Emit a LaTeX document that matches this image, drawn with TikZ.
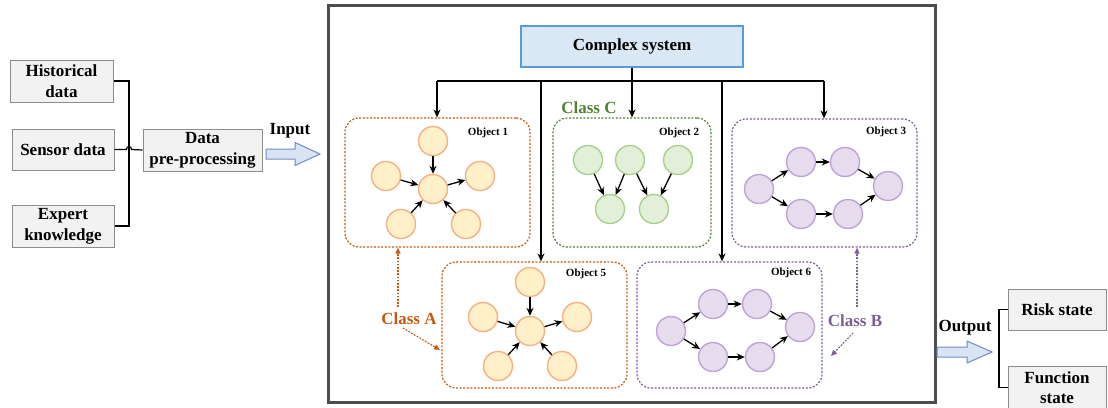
\documentclass[tikz,border=0pt]{standalone}
\usepackage{fontspec}
\setmainfont{Liberation Serif}
\usetikzlibrary{arrows.meta,calc}

\definecolor{boxfill}{HTML}{F2F2F2}
\definecolor{boxline}{HTML}{8C8C8C}
\definecolor{sysline}{HTML}{4D4D4D}
\definecolor{csfill}{HTML}{DAE8F5}
\definecolor{csline}{HTML}{5B9BD5}
\definecolor{arrfill}{HTML}{DAE3F3}
\definecolor{arrline}{HTML}{6C8EBF}
\definecolor{orgline}{HTML}{C55A11}
\definecolor{orgfill}{HTML}{FFF0C9}
\definecolor{orgring}{HTML}{F4B183}
\definecolor{grnline}{HTML}{548235}
\definecolor{grnfill}{HTML}{E2F0D9}
\definecolor{grnring}{HTML}{A9D18E}
\definecolor{purline}{HTML}{7B5E93}
\definecolor{purfill}{HTML}{E6DCEE}
\definecolor{purring}{HTML}{BFA3D6}

\tikzset{
  graybox/.style={draw=boxline, fill=boxfill, line width=1pt, align=center,
    font=\bfseries\fontsize{17}{21}\selectfont, inner sep=0pt},
  objbox/.style={rounded corners=14pt, line width=1.2pt,
    dash pattern=on 2pt off 1.6pt, inner sep=0pt},
  ball/.style={circle, minimum size=29pt, inner sep=0pt, line width=1.4pt},
  orgball/.style={ball, draw=orgring, fill=orgfill},
  grnball/.style={ball, draw=grnring, fill=grnfill},
  purball/.style={ball, draw=purring, fill=purfill},
  link/.style={-{Stealth[length=8pt,width=7pt]}, line width=1.3pt},
  wire/.style={line width=1.3pt},
  objlabel/.style={font=\bfseries\fontsize{11}{13}\selectfont},
  biglabel/.style={font=\bfseries\fontsize{17}{20}\selectfont},
  classlink/.style={dash pattern=on 1.6pt off 1.6pt, line width=1.1pt,
    -{Triangle[length=6pt,width=5pt]}},
  blockarrow/.style={draw=arrline, fill=arrfill, line width=1pt, line join=miter},
}

\begin{document}
\begin{tikzpicture}[x=1pt, y=-1pt]
\useasboundingbox (0,0) rectangle (1108,407);

% ---------- inputs ----------
\node[graybox, minimum width=103pt, minimum height=42pt] (hist) at (61.5,81) {Historical\\data};
\node[graybox, minimum width=102pt, minimum height=41pt] (sens) at (63,149.5) {Sensor data};
\node[graybox, minimum width=102pt, minimum height=42pt] (expk) at (63,226) {Expert\\knowledge};
\node[graybox, minimum width=119pt, minimum height=42pt] (prep) at (202.5,150) {Data\\pre-processing};

\coordinate (spine) at (129,0);
\coordinate (hopL) at (126.5,149.5);
\coordinate (hopR) at (131.5,149.5);
\draw[line width=1.2pt] (hist.east) -- (hist.east -| spine) -- (spine |- expk.east) -- (expk.east);
\draw[line width=1.2pt] (sens.east) -- (hopL) .. controls (126.5,145.5) and (131.5,145.5) .. (hopR) -- (prep.west);

% input arrow
\draw[blockarrow] (266,149) -- (295,149) -- (295,142.5) -- (320,154) -- (295,165.5) -- (295,159) -- (266,159) -- cycle;
\node[biglabel] (inlbl) at (290,131) {Input};

% ---------- system frame ----------
\draw[draw=sysline, line width=3pt] (328,5) rectangle (935,402);

\node[draw=csline, fill=csfill, line width=1.3pt, minimum width=222pt, minimum height=41pt,
  font=\bfseries\fontsize{17}{20}\selectfont] (cs) at (632,46.5) {Complex system};

% object containers
\node[objbox, draw=orgline, minimum width=185pt, minimum height=129pt] (obj1) at (437.5,182.5) {};
\node[objbox, draw=grnline, minimum width=158pt, minimum height=129pt] (obj2) at (632,182.5) {};
\node[objbox, draw=purline, minimum width=185pt, minimum height=128pt] (obj3) at (824.5,183) {};
\node[objbox, draw=orgline, minimum width=185pt, minimum height=126pt] (obj5) at (534.5,325) {};
\node[objbox, draw=purline, minimum width=185pt, minimum height=126pt] (obj6) at (729.5,325) {};

\node[objlabel] (lbl1) at (488,133) {Object 1};
\node[objlabel] (lbl2) at (679,133) {Object 2};
\node[objlabel] (lbl3) at (886,132) {Object 3};
\node[objlabel] (lbl5) at (586,274) {Object 5};
\node[objlabel] (lbl6) at (791,273) {Object 6};

% distribution bus
\coordinate (b1) at (437,81);
\coordinate (b5) at (541,81);
\coordinate (b6) at (722,81);
\coordinate (b3) at (824,81);
\draw[wire] (b1) -- (b3);
\draw[link] (b1) -- (b1 |- obj1.north);
\draw[link] (b5) -- (b5 |- obj5.north);
\draw[link] (cs.south) -- (obj2.north);
\draw[link] (b6) -- (b6 |- obj6.north);
\draw[link] (b3) -- (b3 |- obj3.north);

% ---------- object 1: star ----------
\node[orgball] (a1t) at (433,141) {};
\node[orgball] (a1c) at (433,189) {};
\node[orgball] (a1l) at (386,176) {};
\node[orgball] (a1r) at (480,176) {};
\node[orgball] (a1bl) at (401,224) {};
\node[orgball] (a1br) at (466,224) {};
\draw[link] (a1t) -- (a1c);
\draw[link] (a1l) -- (a1c);
\draw[link] (a1c) -- (a1r);
\draw[link] (a1bl) -- (a1c);
\draw[link] (a1br) -- (a1c);

% ---------- object 5: star ----------
\node[orgball] (a5t) at (530,282) {};
\node[orgball] (a5c) at (530,331) {};
\node[orgball] (a5l) at (483,317) {};
\node[orgball] (a5r) at (577,317) {};
\node[orgball] (a5bl) at (498,366) {};
\node[orgball] (a5br) at (562,366) {};
\draw[link] (a5t) -- (a5c);
\draw[link] (a5l) -- (a5c);
\draw[link] (a5c) -- (a5r);
\draw[link] (a5bl) -- (a5c);
\draw[link] (a5br) -- (a5c);

% ---------- object 2: merge ----------
\node[grnball] (g1) at (588,160) {};
\node[grnball] (g2) at (630,160) {};
\node[grnball] (g3) at (678,160) {};
\node[grnball] (g4) at (610,209) {};
\node[grnball] (g5) at (654,209) {};
\draw[link] (g1) -- (g4);
\draw[link] (g2) -- (g4);
\draw[link] (g2) -- (g5);
\draw[link] (g3) -- (g5);

% ---------- object 3: two paths ----------
\node[purball] (p3l) at (759,189) {};
\node[purball] (p3a) at (801,162) {};
\node[purball] (p3b) at (845,162) {};
\node[purball] (p3r) at (888,186) {};
\node[purball] (p3c) at (801,214) {};
\node[purball] (p3d) at (848,214) {};
\draw[link] (p3l) -- (p3a);
\draw[link] (p3a) -- (p3b);
\draw[link] (p3b) -- (p3r);
\draw[link] (p3l) -- (p3c);
\draw[link] (p3c) -- (p3d);
\draw[link] (p3d) -- (p3r);

% ---------- object 6: two paths ----------
\node[purball] (p6l) at (671,331) {};
\node[purball] (p6a) at (713,304) {};
\node[purball] (p6b) at (757,304) {};
\node[purball] (p6r) at (800,327) {};
\node[purball] (p6c) at (713,357) {};
\node[purball] (p6d) at (760,357) {};
\draw[link] (p6l) -- (p6a);
\draw[link] (p6a) -- (p6b);
\draw[link] (p6b) -- (p6r);
\draw[link] (p6l) -- (p6c);
\draw[link] (p6c) -- (p6d);
\draw[link] (p6d) -- (p6r);

% ---------- classes ----------
\node[biglabel, text=grnline] (clsC) at (589,108) {Class C};
\node[biglabel, text=orgline] (clsA) at (409,319) {Class A};
\node[biglabel, text=purline] (clsB) at (855,321) {Class B};

\coordinate (ca1) at (398,307);
\coordinate (ca2) at (403,328);
\coordinate (ca2e) at (440,350);
\draw[classlink, draw=orgline, fill=orgline] (ca1) -- (ca1 |- obj1.south);
\draw[classlink, draw=orgline, fill=orgline] (ca2) -- (ca2e);

\coordinate (cb1) at (857,307);
\coordinate (cb2) at (853,333);
\coordinate (cb2e) at (831,356);
\draw[classlink, draw=purline, fill=purline] (cb1) -- (cb1 |- obj3.south);
\draw[classlink, draw=purline, fill=purline] (cb2) -- (cb2e);

% ---------- outputs ----------
\draw[blockarrow] (937,347) -- (967,347) -- (967,341) -- (992,352) -- (967,363) -- (967,357) -- (937,357) -- cycle;
\node[biglabel] (outlbl) at (965,328) {Output};

\node[graybox, minimum width=98pt, minimum height=41pt] (risk) at (1057,309.5) {Risk state};
\node[graybox, minimum width=98pt, minimum height=43pt, font=\bfseries\fontsize{17}{20}\selectfont] (func) at (1057,387.5) {Function\\state};
\coordinate (fork) at (999,0);
\draw[line width=1.2pt] (risk.west) -- (risk.west -| fork) -- (fork |- func.west) -- (func.west);
\end{tikzpicture}
\end{document}
